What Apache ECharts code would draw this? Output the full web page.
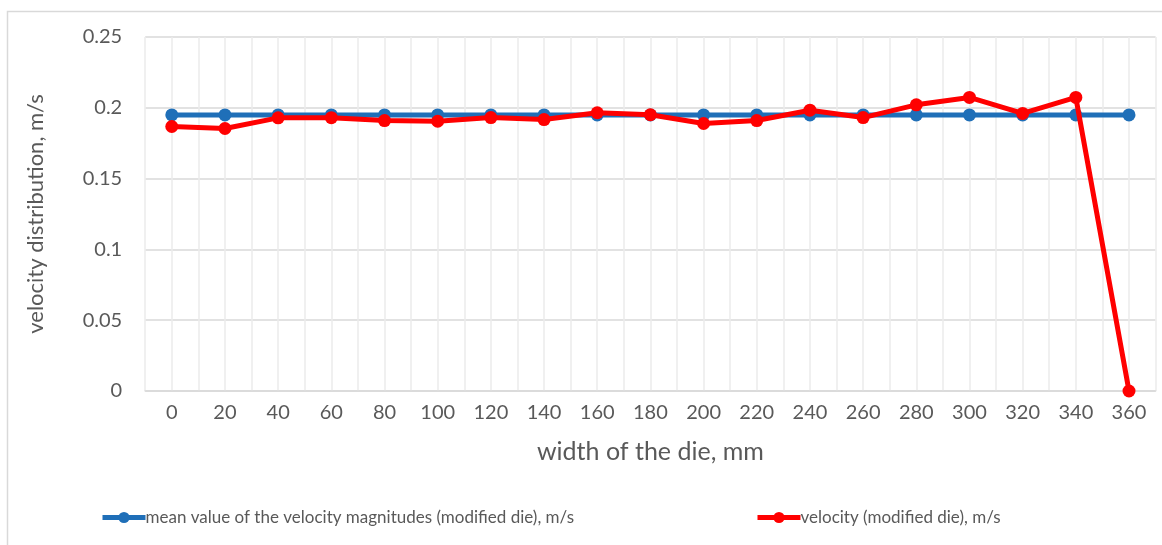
<!DOCTYPE html>
<html><head><meta charset="utf-8">
<script src="https://cdn.jsdelivr.net/npm/echarts@6/dist/echarts.min.js"></script>
<style>html,body{margin:0;padding:0;background:#fff}#c{width:1162px;height:545px}</style>
</head><body><div id="c"></div>
<script>
var widths = [0,20,40,60,80,100,120,140,160,180,200,220,240,260,280,300,320,340,360];
var meanVelocity = [0.195,0.195,0.195,0.195,0.195,0.195,0.195,0.195,0.195,0.195,0.195,0.195,0.195,0.195,0.195,0.195,0.195,0.195,0.195];
var velocity = [0.1868,0.1854,0.1929,0.193,0.191,0.1905,0.1931,0.1917,0.1965,0.1951,0.1889,0.191,0.1983,0.1931,0.2021,0.2073,0.196,0.2073,0];
var seriesNames = ['mean value of the velocity magnitudes (modified die), m/s','velocity (modified die), m/s'];

function pairs(ys){ return widths.map(function(x,i){ return [x, ys[i]]; }); }
var FONT = 'Lato';
var TXT = '#595959';
var chart = echarts.init(document.getElementById('c'));
chart.setOption({
  animation:false,
  textStyle:{fontFamily:FONT},
  graphic:[{type:'rect',shape:{x:7.5,y:11.5,width:1170,height:560},style:{fill:'none',stroke:'#d9d9d9',lineWidth:1.5},silent:true}],
  grid:{left:145.2,right:6.4,top:37,bottom:154},
  legend:{
    left:95, top:504, itemWidth:43, itemHeight:14, itemGap:181,
    lineStyle:{width:5},
    textStyle:{fontFamily:FONT,fontSize:17,color:TXT,padding:[0,0,0,-5]},
    data:seriesNames
  },
  xAxis:{
    type:'value', min:-10, max:370, interval:10,
    name:'width of the die, mm', nameLocation:'middle', nameGap:48,
    nameTextStyle:{fontFamily:FONT,fontSize:25,color:TXT},
    axisLine:{show:true,lineStyle:{color:'#d9d9d9',width:1.5}},
    axisTick:{show:false},
    axisLabel:{fontFamily:FONT,fontSize:20,color:TXT,margin:12,
      formatter:function(v){ return (v>=0 && v<=360 && v%20===0) ? String(v) : ''; }},
    splitLine:{show:true,lineStyle:{color:'#ebebeb',width:1.5}}
  },
  yAxis:{
    type:'value', min:0, max:0.25, interval:0.05,
    name:'velocity distribution, m/s', nameLocation:'middle', nameGap:98,
    nameTextStyle:{fontFamily:FONT,fontSize:22,color:TXT},
    axisLine:{show:false}, axisTick:{show:false},
    axisLabel:{fontFamily:FONT,fontSize:20,color:TXT,margin:23},
    splitLine:{lineStyle:{color:'#d9d9d9',width:1.5}}
  },
  series:[
    {name:seriesNames[0],type:'line',data:pairs(meanVelocity),symbol:'circle',symbolSize:13,
     lineStyle:{color:'#1f6fb8',width:5},itemStyle:{color:'#1f6fb8'},z:2},
    {name:seriesNames[1],type:'line',data:pairs(velocity),symbol:'circle',symbolSize:13,
     lineStyle:{color:'#ff0000',width:5},itemStyle:{color:'#ff0000'},z:3}
  ]
});
</script></body></html>
